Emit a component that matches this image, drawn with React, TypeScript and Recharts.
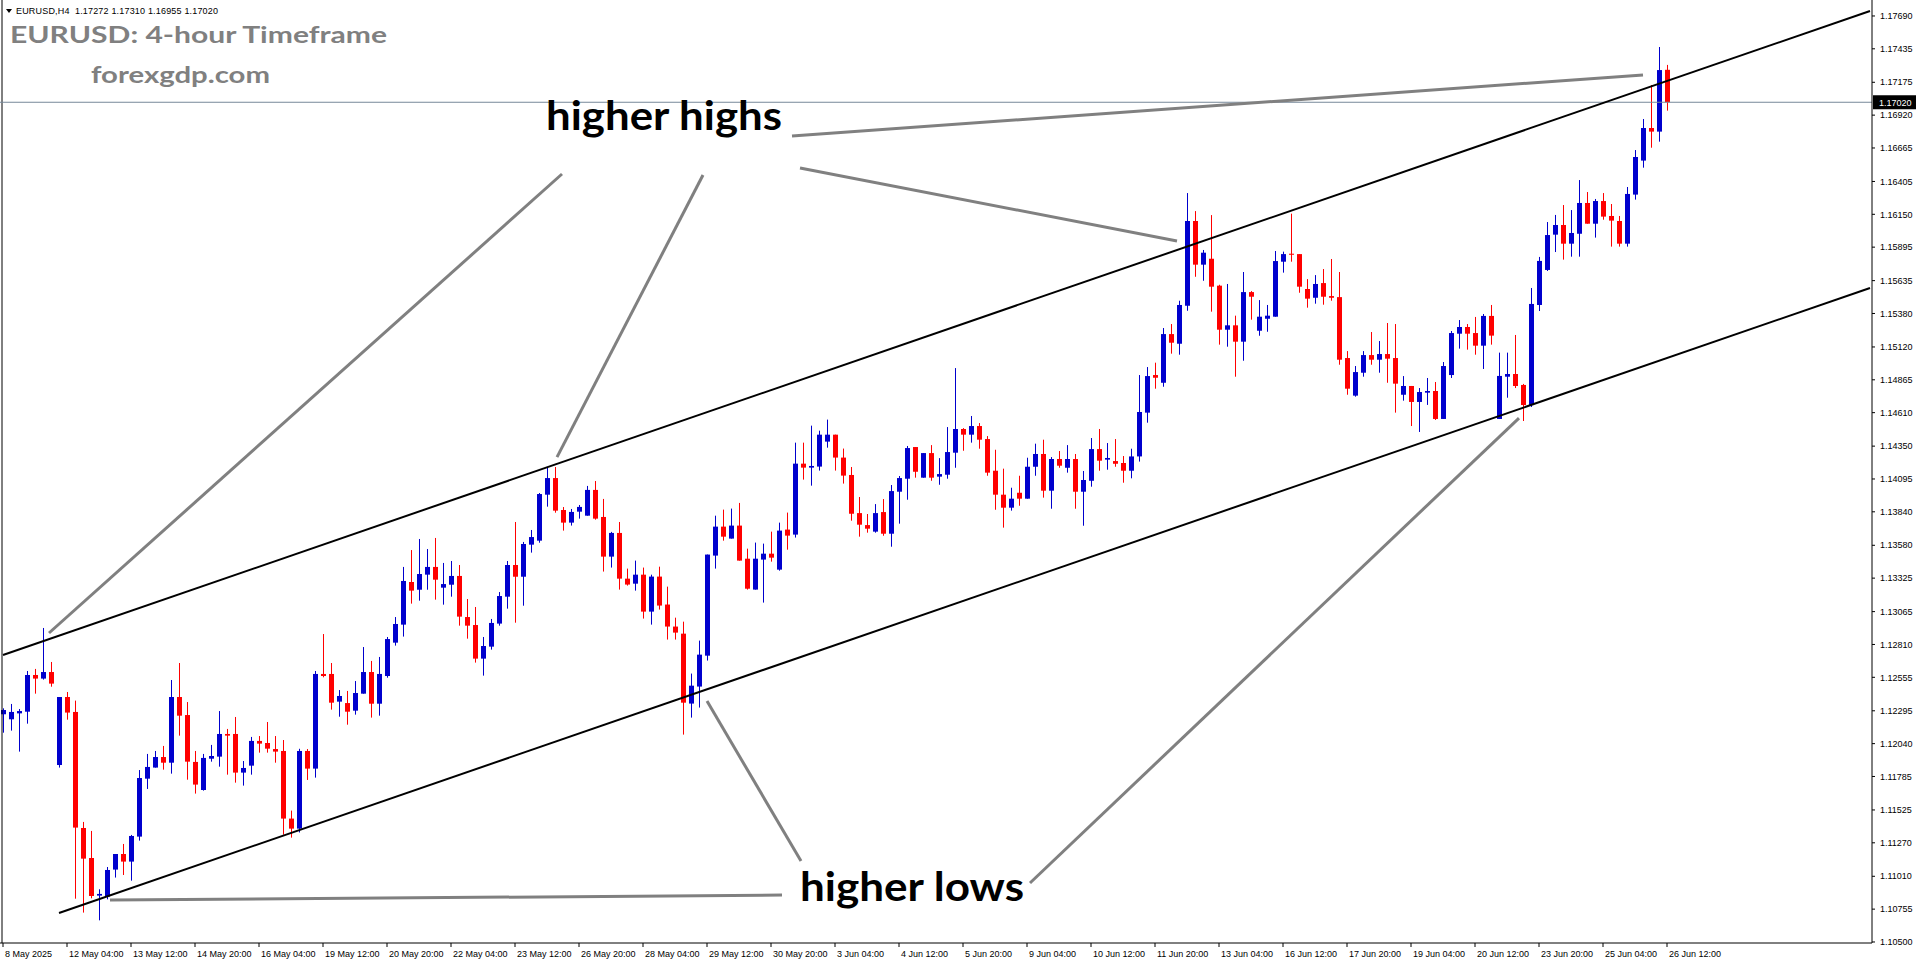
import { ComposedChart, Bar, XAxis, YAxis, ReferenceLine } from "recharts";

// EURUSD H4 candles, 8 May 20:00 .. 26 Jun 12:00
const opens = [
  1.12268, 1.12229, 1.12275, 1.12288, 1.12573, 1.12545, 1.12596, 1.11874, 1.12402, 1.12286,
  1.11385, 1.11152, 1.1086, 1.10852, 1.11062, 1.11183, 1.11124, 1.11318, 1.11768, 1.11854,
  1.11936, 1.11892, 1.12402, 1.12262, 1.11898, 1.1168, 1.11923, 1.11939, 1.12115, 1.12115,
  1.11815, 1.11869, 1.12061, 1.12045, 1.11998, 1.11983, 1.11458, 1.1138, 1.11983, 1.11846,
  1.12581, 1.12581, 1.12366, 1.12355, 1.12296, 1.12428, 1.12596, 1.1235, 1.12565, 1.12824,
  1.12964, 1.13295, 1.13235, 1.13352, 1.13412, 1.13251, 1.13274, 1.13342, 1.13023, 1.12961,
  1.127, 1.12793, 1.12972, 1.13181, 1.13427, 1.13336, 1.13585, 1.13616, 1.13973, 1.14102,
  1.13854, 1.13756, 1.13841, 1.1381, 1.1401, 1.138, 1.13492, 1.13676, 1.13321, 1.13282,
  1.13352, 1.13065, 1.13337, 1.1312, 1.12949, 1.12894, 1.12351, 1.12483, 1.12723, 1.135,
  1.13725, 1.13632, 1.13733, 1.13476, 1.13236, 1.13469, 1.13515, 1.13391, 1.13702, 1.13663,
  1.14214, 1.14183, 1.14191, 1.14385, 1.14439, 1.14261, 1.14126, 1.1383, 1.13737, 1.13686,
  1.13838, 1.1367, 1.13996, 1.14097, 1.14343, 1.14105, 1.14296, 1.14113, 1.14128, 1.14299,
  1.14483, 1.14439, 1.14506, 1.14405, 1.14159, 1.13973, 1.13872, 1.13988, 1.13942, 1.1419,
  1.14289, 1.14004, 1.1425, 1.14182, 1.1425, 1.13996, 1.14081, 1.14327, 1.14245, 1.14234,
  1.14219, 1.14159, 1.1427, 1.1461, 1.14902, 1.14842, 1.1522, 1.15145, 1.1544, 1.16098,
  1.15759, 1.15805, 1.15596, 1.15254, 1.15288, 1.15161, 1.15546, 1.15246, 1.15339, 1.15355,
  1.15782, 1.15844, 1.15841, 1.1557, 1.15502, 1.15616, 1.15515, 1.15507, 1.15034, 1.14742,
  1.1492, 1.15057, 1.15021, 1.15065, 1.15034, 1.14749, 1.14817, 1.14693, 1.14765, 1.14778,
  1.14561, 1.14902, 1.15223, 1.15275, 1.15228, 1.1513, 1.15361, 1.14561, 1.14889, 1.1491,
  1.14825, 1.14669, 1.15446, 1.15718, 1.15992, 1.16067, 1.15922, 1.15999, 1.16238, 1.16077,
  1.16253, 1.16137, 1.16098, 1.15922, 1.16303, 1.16567, 1.1682, 1.16792, 1.17272,
];
const highs = [
  1.12314, 1.12348, 1.12309, 1.12604, 1.1262, 1.12938, 1.12674, 1.12402, 1.12441, 1.12374,
  1.11432, 1.11362, 1.10909, 1.11082, 1.11183, 1.11261, 1.11331, 1.11835, 1.1196, 1.11983,
  1.12022, 1.12534, 1.12666, 1.12363, 1.11983, 1.1196, 1.1203, 1.12293, 1.12154, 1.12247,
  1.11905, 1.12092, 1.12099, 1.12208, 1.12099, 1.12068, 1.1152, 1.12, 1.11998, 1.12604,
  1.12891, 1.12666, 1.12456, 1.12449, 1.12526, 1.1279, 1.12682, 1.12713, 1.12868, 1.13023,
  1.13412, 1.13543, 1.13629, 1.13551, 1.13637, 1.13443, 1.13458, 1.13427, 1.13163, 1.13101,
  1.12868, 1.13008, 1.13217, 1.13458, 1.13761, 1.13606, 1.13699, 1.13986, 1.14188, 1.14188,
  1.13877, 1.13862, 1.13893, 1.14041, 1.14079, 1.1394, 1.13684, 1.13761, 1.13399, 1.13461,
  1.13407, 1.13352, 1.13414, 1.13259, 1.13018, 1.12987, 1.12584, 1.1284, 1.13508, 1.1381,
  1.13857, 1.13865, 1.13909, 1.13554, 1.13601, 1.13593, 1.13686, 1.13756, 1.13834, 1.14377,
  1.14377, 1.14509, 1.1447, 1.14556, 1.14439, 1.14331, 1.14188, 1.13955, 1.13823, 1.139,
  1.13939, 1.14048, 1.14118, 1.14351, 1.14343, 1.14296, 1.14358, 1.14257, 1.14498, 1.14956,
  1.1449, 1.14584, 1.14529, 1.14428, 1.14322, 1.14175, 1.14027, 1.1412, 1.1426, 1.14369,
  1.144, 1.14265, 1.14312, 1.14358, 1.14289, 1.14157, 1.14413, 1.14483, 1.14374, 1.14405,
  1.14273, 1.1433, 1.14902, 1.14964, 1.14998, 1.15267, 1.15298, 1.15479, 1.16315, 1.16175,
  1.15873, 1.16144, 1.15603, 1.15609, 1.15363, 1.15702, 1.15554, 1.15484, 1.15446, 1.15865,
  1.1586, 1.16155, 1.15841, 1.15647, 1.15678, 1.15725, 1.15803, 1.15702, 1.15088, 1.14972,
  1.15088, 1.15236, 1.15166, 1.15306, 1.15298, 1.14894, 1.14817, 1.14801, 1.14879, 1.14848,
  1.15003, 1.15244, 1.15329, 1.15298, 1.15353, 1.15376, 1.15446, 1.15076, 1.15076, 1.15213,
  1.14833, 1.15578, 1.15819, 1.1609, 1.16145, 1.16222, 1.16183, 1.16416, 1.16323, 1.16269,
  1.16315, 1.1623, 1.16137, 1.16362, 1.16649, 1.1689, 1.17154, 1.17449, 1.1731,
];
const lows = [
  1.12125, 1.12141, 1.11978, 1.12195, 1.12428, 1.12537, 1.12482, 1.11854, 1.12226, 1.10836,
  1.10728, 1.10839, 1.10668, 1.10831, 1.11, 1.1102, 1.10976, 1.11287, 1.11688, 1.11854,
  1.11838, 1.11807, 1.12102, 1.1176, 1.11652, 1.11675, 1.119, 1.11861, 1.11799, 1.11737,
  1.11714, 1.11799, 1.1197, 1.1197, 1.11892, 1.11333, 1.1131, 1.1135, 1.11758, 1.11776,
  1.12555, 1.12304, 1.12249, 1.12187, 1.12265, 1.12428, 1.12242, 1.12257, 1.12552, 1.12801,
  1.12871, 1.13127, 1.1315, 1.13235, 1.13158, 1.13119, 1.13181, 1.12956, 1.12855, 1.12669,
  1.12568, 1.1277, 1.12956, 1.13088, 1.12979, 1.13111, 1.13523, 1.136, 1.1388, 1.13833,
  1.13694, 1.13733, 1.13787, 1.1381, 1.13779, 1.13376, 1.13407, 1.13236, 1.13267, 1.13228,
  1.13011, 1.12964, 1.13081, 1.12848, 1.12848, 1.1211, 1.12242, 1.1232, 1.12685, 1.13399,
  1.13616, 1.13632, 1.13461, 1.13236, 1.13236, 1.13135, 1.13453, 1.13383, 1.13546, 1.1364,
  1.1409, 1.14043, 1.1416, 1.14338, 1.1416, 1.14059, 1.13771, 1.13647, 1.13678, 1.13678,
  1.13654, 1.13569, 1.13748, 1.13934, 1.14105, 1.14105, 1.14081, 1.1405, 1.14097, 1.14182,
  1.14314, 1.14377, 1.1433, 1.1412, 1.13856, 1.13717, 1.13849, 1.13887, 1.13942, 1.1412,
  1.1395, 1.13864, 1.14182, 1.14144, 1.13864, 1.13732, 1.14035, 1.14159, 1.14167, 1.1419,
  1.14066, 1.141, 1.1423, 1.14532, 1.14796, 1.14811, 1.15068, 1.1506, 1.15401, 1.15665,
  1.15634, 1.15394, 1.15138, 1.15122, 1.14889, 1.15013, 1.15332, 1.15207, 1.15238, 1.15355,
  1.15697, 1.15782, 1.15541, 1.15425, 1.15456, 1.15448, 1.15479, 1.14982, 1.14749, 1.14734,
  1.14889, 1.14982, 1.1492, 1.14842, 1.1461, 1.14703, 1.14506, 1.1446, 1.1467, 1.14553,
  1.14561, 1.14879, 1.15107, 1.15099, 1.1506, 1.14949, 1.15138, 1.14561, 1.14726, 1.14801,
  1.14545, 1.14654, 1.15399, 1.1571, 1.15857, 1.15798, 1.15821, 1.15821, 1.16077, 1.15969,
  1.16108, 1.15899, 1.15899, 1.15899, 1.16264, 1.16512, 1.16667, 1.16714, 1.16955,
];
const closes = [
  1.12301, 1.12286, 1.12293, 1.12573, 1.12545, 1.12596, 1.12506, 1.12402, 1.12281, 1.11388,
  1.11147, 1.10857, 1.10873, 1.11059, 1.11183, 1.11124, 1.11323, 1.11773, 1.11859, 1.11936,
  1.11892, 1.12402, 1.12257, 1.119, 1.11722, 1.11929, 1.11944, 1.12115, 1.12102, 1.11815,
  1.11851, 1.12061, 1.1204, 1.12001, 1.11978, 1.11458, 1.1138, 1.11983, 1.11846, 1.12581,
  1.12565, 1.12358, 1.1241, 1.12288, 1.12433, 1.12596, 1.1235, 1.12581, 1.12852, 1.12969,
  1.13303, 1.13228, 1.13357, 1.13412, 1.13313, 1.13279, 1.13342, 1.13026, 1.12956, 1.127,
  1.12798, 1.12977, 1.13186, 1.13427, 1.13336, 1.1359, 1.13644, 1.13978, 1.14102, 1.13849,
  1.13756, 1.13839, 1.13878, 1.1401, 1.13787, 1.13492, 1.13676, 1.13321, 1.13275, 1.13352,
  1.13065, 1.13337, 1.13112, 1.12949, 1.12902, 1.12358, 1.1249, 1.12731, 1.13508, 1.13725,
  1.13647, 1.13733, 1.13461, 1.13243, 1.13476, 1.13515, 1.13484, 1.13694, 1.13655, 1.14214,
  1.14183, 1.14196, 1.14439, 1.14439, 1.14261, 1.14121, 1.13825, 1.1374, 1.13709, 1.1383,
  1.1367, 1.14001, 1.14102, 1.14335, 1.14151, 1.14296, 1.14105, 1.14133, 1.14304, 1.14483,
  1.14439, 1.14506, 1.144, 1.14144, 1.13973, 1.13872, 1.13942, 1.13942, 1.1419, 1.14289,
  1.14004, 1.1425, 1.14198, 1.1425, 1.13996, 1.14087, 1.14327, 1.14237, 1.14258, 1.14213,
  1.14159, 1.1427, 1.14615, 1.14894, 1.14881, 1.1522, 1.15153, 1.15446, 1.16098, 1.15759,
  1.15852, 1.15588, 1.15254, 1.15288, 1.15161, 1.15546, 1.1551, 1.15355, 1.15363, 1.15787,
  1.15841, 1.15836, 1.15588, 1.15495, 1.15609, 1.1551, 1.15502, 1.15021, 1.14796, 1.14925,
  1.15057, 1.15021, 1.15065, 1.15029, 1.14835, 1.14817, 1.14693, 1.1477, 1.14778, 1.14561,
  1.14972, 1.15228, 1.15275, 1.15223, 1.1513, 1.15361, 1.15208, 1.14895, 1.1491, 1.14817,
  1.14669, 1.15454, 1.15788, 1.15989, 1.16067, 1.15922, 1.16005, 1.16238, 1.16077, 1.16253,
  1.16132, 1.16101, 1.15922, 1.16308, 1.16595, 1.1682, 1.16792, 1.1727, 1.1702,
];

const priceTicks = [
  1.1769, 1.17435, 1.17175, 1.1692, 1.16665, 1.16405, 1.1615, 1.15895, 1.15635, 1.1538,
  1.1512, 1.14865, 1.1461, 1.1435, 1.14095, 1.1384, 1.1358, 1.13325, 1.13065, 1.1281,
  1.12555, 1.12295, 1.1204, 1.11785, 1.11525, 1.1127, 1.1101, 1.10755, 1.105,
];

// one label every 8 bars, starting at bar 0
const timeLabels = [
  "8 May 2025", "12 May 04:00", "13 May 12:00", "14 May 20:00", "16 May 04:00", "19 May 12:00",
  "20 May 20:00", "22 May 04:00", "23 May 12:00", "26 May 20:00", "28 May 04:00", "29 May 12:00",
  "30 May 20:00", "3 Jun 04:00", "4 Jun 12:00", "5 Jun 20:00", "9 Jun 04:00", "10 Jun 12:00",
  "11 Jun 20:00", "13 Jun 04:00", "16 Jun 12:00", "17 Jun 20:00", "19 Jun 04:00", "20 Jun 12:00",
  "23 Jun 20:00", "25 Jun 04:00", "26 Jun 12:00",
];

const lastPrice = 1.1702;

// trend channel, in (bar, price)
const channelUpper = [{ x: 0, y: 1.12728 }, { x: 233.375, y: 1.17729 }];
const channelLower = [{ x: 7, y: 1.10725 }, { x: 233.375, y: 1.15578 }];

// grey pointer lines from the captions
const pointers = [
  [{ x: 5.75, y: 1.12899 }, { x: 69.875, y: 1.16463 }],
  [{ x: 69.25, y: 1.14265 }, { x: 87.5, y: 1.16455 }],
  [{ x: 99.625, y: 1.16509 }, { x: 146.75, y: 1.15943 }],
  [{ x: 98.625, y: 1.16758 }, { x: 205, y: 1.17232 }],
  [{ x: 88, y: 1.12371 }, { x: 99.75, y: 1.11128 }],
  [{ x: 128.375, y: 1.10958 }, { x: 189.5, y: 1.14568 }],
  [{ x: 13.375, y: 1.10825 }, { x: 97.375, y: 1.10864 }],
];

const candles = opens.map((o, i) => ({
  bar: i,
  o,
  h: highs[i],
  l: lows[i],
  c: closes[i],
  span: [lows[i], highs[i]],
}));
const labelBars = timeLabels.map((_, k) => k * 8);

const axisFont = "'Liberation Sans', Arial, sans-serif";
const bigFont = "Lato, 'Open Sans', sans-serif";

const Candle = (props: any) => {
  const { x, y, width, height, payload } = props;
  if (!payload || x == null || y == null) return null;
  const { o, h, l, c } = payload;
  const top = Math.min(y, y + height);
  const bot = Math.max(y, y + height);
  const py = (p: number) => top + ((h - p) / (h - l || 1)) * (bot - top);
  const cx = Math.round(x + width / 2);
  const color = c >= o ? "#0000CD" : "#FF0000";
  const bTop = py(Math.max(o, c));
  const bBot = py(Math.min(o, c));
  return (
    <g>
      <line x1={cx + 0.5} x2={cx + 0.5} y1={top} y2={bot} stroke={color} strokeWidth={1} />
      <rect x={cx - 2} y={bTop} width={5} height={Math.max(bBot - bTop, 1)} fill={color} />
    </g>
  );
};

const TimeTick = (props: any) => {
  const { x, y, payload } = props;
  const k = labelBars.indexOf(payload.value);
  return (
    <text x={x + 2} y={y + 8} fontSize={9} fontFamily={axisFont} fill="#000">
      {timeLabels[k]}
    </text>
  );
};

const PriceBox = (props: any) => {
  const vb = props.viewBox;
  if (!vb) return null;
  const x = vb.x + vb.width + 1;
  return (
    <g>
      <rect x={x} y={vb.y - 7} width={43} height={14} fill="#000" />
      <text x={x + 6} y={vb.y + 3.5} fontSize={9} fontFamily={axisFont} fill="#fff">
        {lastPrice.toFixed(5)}
      </text>
    </g>
  );
};

export default function App() {
  return (
    <div
      style={{
        position: "absolute",
        left: 0,
        top: 0,
        width: 1916,
        height: 964,
        background: "#fff",
        overflow: "hidden",
      }}
    >
      <ComposedChart width={1916} height={964} data={candles} margin={{ top: 0, right: 0, bottom: 0, left: 0 }}>
        <XAxis
          dataKey="bar"
          type="number"
          domain={[-0.375, 233.625]}
          allowDataOverflow
          ticks={labelBars}
          interval={0}
          tick={<TimeTick />}
          tickSize={4}
          height={21}
          stroke="#000"
        />
        <YAxis
          orientation="right"
          type="number"
          domain={[1.10492, 1.17814]}
          allowDataOverflow
          ticks={priceTicks}
          interval={0}
          width={44}
          tickSize={3}
          tickMargin={5}
          tick={{ fontSize: 9, fill: "#000", fontFamily: axisFont }}
          tickFormatter={(v: number) => v.toFixed(5)}
          stroke="#000"
        />
        <ReferenceLine x={-0.125} stroke="#000" strokeWidth={1} />
        <ReferenceLine y={lastPrice} stroke="#778899" strokeWidth={1} label={<PriceBox />} />
        <Bar dataKey="span" shape={<Candle />} barSize={5} isAnimationActive={false} />
        <ReferenceLine segment={channelUpper} stroke="#000" strokeWidth={2} />
        <ReferenceLine segment={channelLower} stroke="#000" strokeWidth={2} />
        {pointers.map((seg, k) => (
          <ReferenceLine key={k} segment={seg} stroke="#808080" strokeWidth={3} />
        ))}
      </ComposedChart>
      <svg
        width={1916}
        height={964}
        style={{ position: "absolute", left: 0, top: 0, pointerEvents: "none" }}
      >
        <polygon points="6,9 12,9 9,13" fill="#000" />
        <text x={16} y={14} fontSize={9} fontFamily={axisFont} fill="#000" style={{ whiteSpace: "pre" }} textLength={202}>
          {"EURUSD,H4  1.17272 1.17310 1.16955 1.17020"}
        </text>
        <text x={10} y={43} fontSize={23} fontWeight={700} fontFamily={bigFont} fill="#808080" textLength={377} lengthAdjust="spacingAndGlyphs">
          EURUSD: 4-hour Timeframe
        </text>
        <text x={91} y={83} fontSize={22} fontWeight={700} fontFamily={bigFont} fill="#808080" textLength={179} lengthAdjust="spacingAndGlyphs">
          forexgdp.com
        </text>
        <text x={546} y={130} fontSize={40} fontWeight={700} fontFamily={bigFont} fill="#000" textLength={236} lengthAdjust="spacingAndGlyphs">
          higher highs
        </text>
        <text x={800} y={901} fontSize={40} fontWeight={700} fontFamily={bigFont} fill="#000" textLength={224} lengthAdjust="spacingAndGlyphs">
          higher lows
        </text>
      </svg>
    </div>
  );
}
